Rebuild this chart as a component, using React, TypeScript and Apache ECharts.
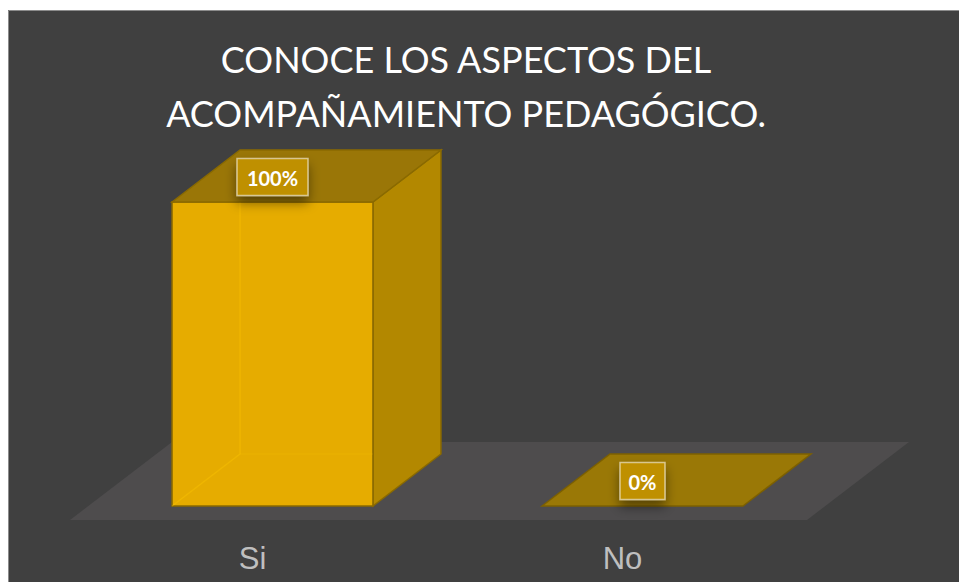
import React, { useEffect, useRef } from "react";
import * as echarts from "echarts";

const categories = ["Si", "No"];
const values = [100, 0];
const valueLabels = ["100%", "0%"];
const titleLines = ["CONOCE LOS ASPECTOS DEL", "ACOMPAÑAMIENTO PEDAGÓGICO."];

const DX = 68;
const DY = 52;

export default function App() {
  const ref = useRef<HTMLDivElement>(null);
  useEffect(() => {
    if (!ref.current) return;
    const chart = echarts.init(ref.current, null, { renderer: "svg" });
    const option: any = {
      animation: false,
      backgroundColor: "#404040",
      grid: { left: 79.5, right: 131.5, top: 192, bottom: 76 },
      xAxis: {
        type: "category",
        data: categories,
        axisLine: { show: false },
        axisTick: { show: false },
        splitLine: { show: false },
        axisLabel: {
          color: "#bfbfbf",
          fontSize: 31,
          fontFamily: "Liberation Sans, Arial, sans-serif",
          margin: 37,
          padding: [0, 40, 0, 0],
        },
      },
      yAxis: { type: "value", min: 0, max: 100, show: false },
      graphic: [
        {
          type: "rect",
          shape: { x: 0.5, y: 0.5, width: 955, height: 580 },
          style: { fill: "none", stroke: "#8c8c8c", lineWidth: 1 },
          silent: true,
          z: 100,
        },
        {
          type: "text",
          x: 458,
          y: 22,
          style: {
            text: titleLines.join("\n"),
            fill: "#ffffff",
            fontSize: 36,
            fontFamily: "Lato, 'Open Sans', sans-serif",
            lineHeight: 54,
            textAlign: "center",
            textVerticalAlign: "top",
          },
        },
      ],
      series: [
        {
          type: "custom",
          z: 1,
          data: [[0, 0]],
          renderItem: (params: any) => {
            const cs = params.coordSys;
            const y0 = cs.y + cs.height;
            const yf = y0 + 14;
            const xl = cs.x - 17.5;
            const xr = cs.x + cs.width - 20.5;
            return {
              type: "polygon",
              shape: {
                points: [
                  [xl, yf],
                  [xr, yf],
                  [xr + 102, yf - 78],
                  [xl + 102, yf - 78],
                ],
              },
              style: { fill: "#4e4c4d" },
            };
          },
        },
        {
          type: "custom",
          z: 2,
          data: values.map((v, i) => [i, v]),
          renderItem: (params: any, api: any) => {
            const cat = api.value(0);
            const val = api.value(1);
            const top = api.coord([cat, val]);
            const base = api.coord([cat, 0]);
            const bw = api.size([1, 0])[0] * 0.543;
            const x0 = base[0] - bw / 2;
            const x1 = base[0] + bw / 2;
            const yb = base[1];
            const yt = top[1];
            const edge = "#8a6a00";
            const children: any[] = [];
            if (val > 0) {
              children.push({
                type: "polygon",
                shape: { points: [[x1, yt], [x1 + DX, yt - DY], [x1 + DX, yb - DY], [x1, yb]] },
                style: { fill: "#b38800", stroke: edge, lineWidth: 1.5 },
              });
              children.push({
                type: "rect",
                shape: { x: x0, y: yt, width: bw, height: yb - yt },
                style: { fill: "#e6ac00", stroke: edge, lineWidth: 1.5 },
              });
              children.push({
                type: "polyline",
                shape: { points: [[x0, yb], [x0 + DX, yb - DY], [x0 + DX, yt]] },
                style: { fill: "none", stroke: "rgba(255,200,0,0.35)", lineWidth: 1.5 },
              });
              children.push({
                type: "polyline",
                shape: { points: [[x0 + DX, yb - DY], [x1, yb - DY]] },
                style: { fill: "none", stroke: "rgba(255,200,0,0.2)", lineWidth: 1 },
              });
              children.push({
                type: "polygon",
                shape: { points: [[x0, yt], [x0 + DX, yt - DY], [x1 + DX, yt - DY], [x1, yt]] },
                style: { fill: "#9a7607", stroke: edge, lineWidth: 1.5 },
              });
            } else {
              children.push({
                type: "polygon",
                shape: { points: [[x0, yt], [x0 + DX, yt - DY], [x1 + DX, yt - DY], [x1, yt]] },
                style: { fill: "#9a7806", stroke: "#7d6000", lineWidth: 1.5 },
              });
            }
            const txt = valueLabels[params.dataIndex];
            const w = txt.length * 13 + 19;
            const h = 37;
            const cx = base[0];
            const cy = yt - DY / 2 + 1;
            children.push({
              type: "rect",
              shape: { x: cx - w / 2, y: cy - h / 2, width: w, height: h },
              style: {
                fill: "#bf9000",
                stroke: "rgba(255,255,255,0.55)",
                lineWidth: 1.5,
                shadowBlur: 12,
                shadowColor: "rgba(0,0,0,0.45)",
                shadowOffsetY: 7,
              },
            });
            children.push({
              type: "text",
              x: cx,
              y: cy + 1,
              style: {
                text: txt,
                fill: "#ffffff",
                fontSize: 20,
                fontWeight: "bold",
                fontFamily: "Lato, 'Open Sans', sans-serif",
                textAlign: "center",
                textVerticalAlign: "middle",
              },
            });
            return { type: "group", children };
          },
        },
      ],
    };
    chart.setOption(option);
    return () => chart.dispose();
  }, []);
  return (
    <div
      ref={ref}
      style={{ position: "absolute", left: 8, top: 10, width: 951, height: 572 }}
    />
  );
}
